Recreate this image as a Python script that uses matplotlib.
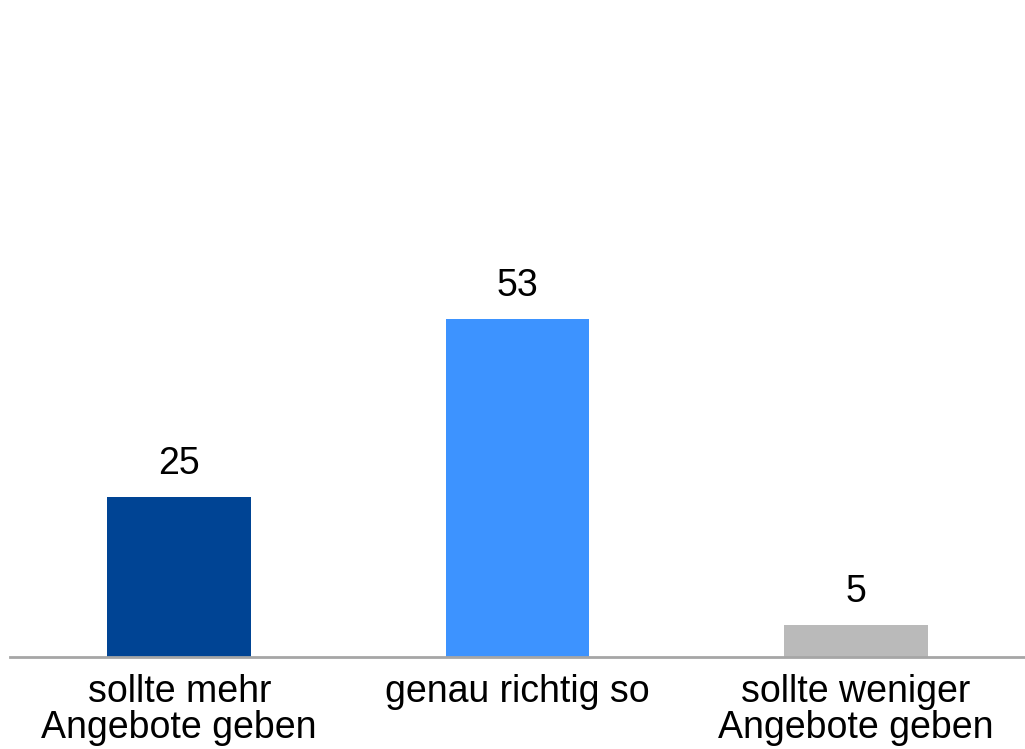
import matplotlib
matplotlib.use('Agg')
from matplotlib import pyplot as plt

categories = ['sollte mehr\nAngebote geben', 'genau richtig so', 'sollte weniger\nAngebote geben']
values = [25, 53, 5]
colors = ['#004494', '#3d93ff', '#bababa']

plt.rcParams['font.family'] = ['Liberation Sans', 'DejaVu Sans']

fig = plt.figure(figsize=(10.25, 7.49), dpi=100)
ax = fig.add_axes([0.0098, 0.1228, 0.9902, 0.852])

x = range(len(values))
bars = ax.bar(x, values, width=0.425, color=colors)

for xi, v in zip(x, values):
    ax.annotate(str(v), (xi, v), xytext=(0, 11), textcoords='offset points',
                ha='center', va='bottom', fontsize=27)

ax.set_xlim(-0.5, 2.5)
ax.set_ylim(0, 100)
ax.set_yticks([])
ax.set_xticks(list(x))
ax.set_xticklabels(categories, fontsize=27, linespacing=1.0)
ax.tick_params(axis='x', length=0, pad=12)

for s in ['top', 'right', 'left']:
    ax.spines[s].set_visible(False)
ax.spines['bottom'].set_color('#a6a6a6')
ax.spines['bottom'].set_linewidth(2)

plt.savefig('out.png', dpi=100)
